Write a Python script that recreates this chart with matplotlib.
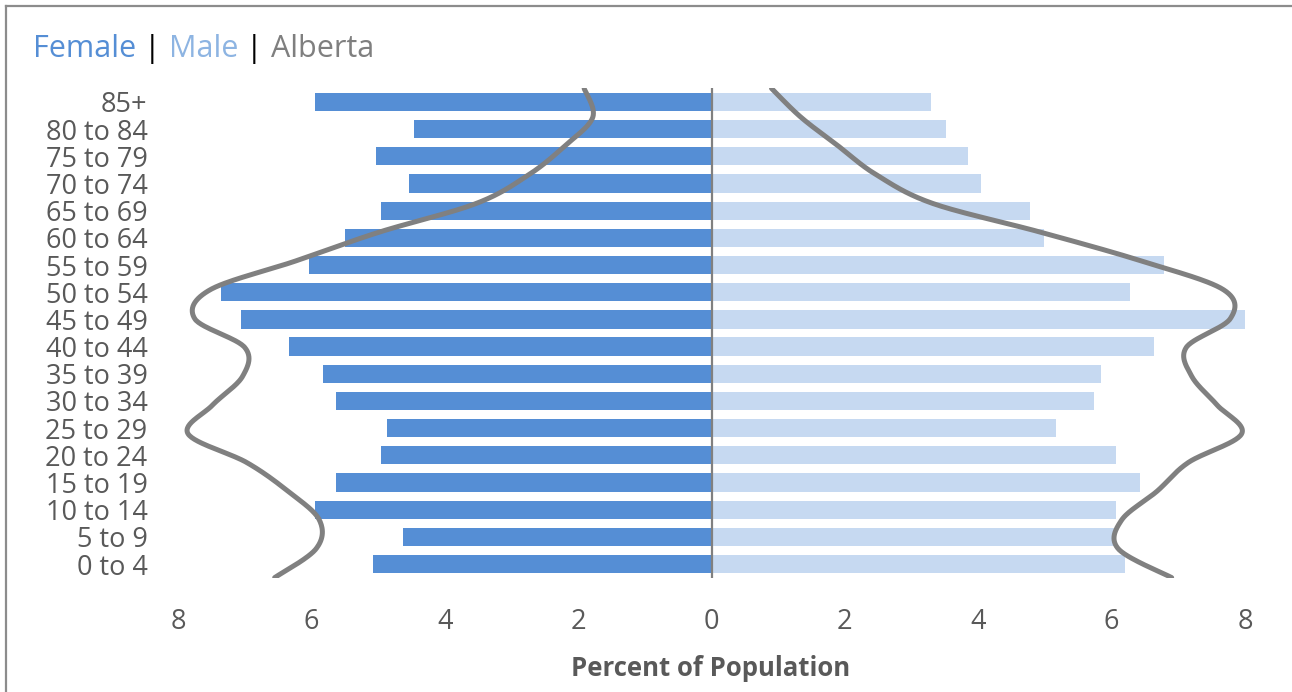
import numpy as np
import matplotlib
matplotlib.use("Agg")
import matplotlib.pyplot as plt
from matplotlib.lines import Line2D

plt.rcParams['font.family'] = ['Open Sans', 'DejaVu Sans']

# ---------------- data (bottom to top) ----------------
age_groups = ["0 to 4", "5 to 9", "10 to 14", "15 to 19", "20 to 24", "25 to 29",
              "30 to 34", "35 to 39", "40 to 44", "45 to 49", "50 to 54", "55 to 59",
              "60 to 64", "65 to 69", "70 to 74", "75 to 79", "80 to 84", "85+"]
female_pct = [5.07, 4.63, 5.95, 5.63, 4.96, 4.87, 5.63, 5.83, 6.33, 7.06,
              7.36, 6.03, 5.50, 4.96, 4.53, 5.03, 4.46, 5.95]
male_pct = [6.20, 6.06, 6.06, 6.42, 6.06, 5.17, 5.73, 5.84, 6.64, 8.02,
            6.28, 6.79, 4.99, 4.77, 4.04, 3.85, 3.52, 3.29]
# Alberta comparison lines (secondary axis, points spread "on tick marks")
alberta_female = [6.55, 5.93, 5.88, 6.35, 6.97, 7.85, 7.48, 7.03, 7.00, 7.75,
                  7.52, 6.24, 4.99, 3.53, 2.74, 2.20, 1.78, 1.91]
alberta_male = [6.90, 6.10, 6.15, 6.68, 7.15, 7.95, 7.58, 7.20, 7.12, 7.78,
                7.68, 6.45, 4.94, 3.32, 2.47, 1.90, 1.34, 0.90]
x_ticks = [-8, -6, -4, -2, 0, 2, 4, 6, 8]
x_tick_labels = ["8", "6", "4", "2", "0", "2", "4", "6", "8"]

FEMALE_C = "#558ED5"
MALE_C = "#C6D9F1"
LINE_C = "#808080"
TEXT_C = "#595959"


def smooth(xs, ys, n=30):
    """Parametric Catmull-Rom (Excel-like smoothed line)."""
    P = np.column_stack([xs, ys]).astype(float)
    P = np.vstack([P[0], P, P[-1]])
    out = []
    for i in range(1, len(P) - 2):
        p0, p1, p2, p3 = P[i - 1], P[i], P[i + 1], P[i + 2]
        t = np.linspace(0, 1, n, endpoint=False)[:, None]
        pt = 0.5 * ((2 * p1) + (-p0 + p2) * t + (2 * p0 - 5 * p1 + 4 * p2 - p3) * t ** 2
                    + (-p0 + 3 * p1 - 3 * p2 + p3) * t ** 3)
        out.append(pt)
    out.append(P[-2][None, :])
    out = np.vstack(out)
    return out[:, 0], out[:, 1]


W, H = 1292, 692
fig = plt.figure(figsize=(W / 100, H / 100), dpi=100)
ax = fig.add_axes([178 / W, 1 - 577.6 / H, (1245 - 178) / W, (577.6 - 88.4) / H])

n = len(age_groups)
ypos = np.arange(n)
ax.barh(ypos, [-v for v in female_pct], height=0.67, color=FEMALE_C, zorder=2)
ax.barh(ypos, male_pct, height=0.67, color=MALE_C, zorder=2)
ax.axvline(0, color=LINE_C, lw=1.6, zorder=3)

line_y = np.linspace(-0.5, n - 0.5, len(alberta_female))
sx, sy = smooth([-v for v in alberta_female], line_y)
ax.plot(sx, sy, color=LINE_C, lw=3.6, solid_capstyle='round', zorder=4)
sx, sy = smooth(alberta_male, line_y)
ax.plot(sx, sy, color=LINE_C, lw=3.6, solid_capstyle='round', zorder=4)

ax.set_xlim(-8, 8)
ax.set_ylim(-0.5, n - 0.5)
ax.set_yticks(ypos)
ax.set_yticklabels(age_groups, fontsize=19.5, color=TEXT_C)
ax.set_xticks(x_ticks)
ax.set_xticklabels(x_tick_labels, fontsize=19.5, color=TEXT_C)
ax.tick_params(axis='y', length=0, pad=22)
ax.tick_params(axis='x', length=0, pad=22)
for s in ax.spines.values():
    s.set_visible(False)

fig.text(711 / W, 1 - 668 / H, "Percent of Population", fontsize=18.5, fontweight='bold',
         color=TEXT_C, ha='center', va='center')

# Title made of coloured pieces
pieces = [("Female", FEMALE_C), (" | ", "#000000"), ("Male", "#8DB4E2"),
          (" | ", "#000000"), ("Alberta", "#7F7F7F")]
renderer = fig.canvas.get_renderer()
x = 33 / W
for txt, col in pieces:
    t = fig.text(x, 1 - 49 / H, txt, fontsize=22, color=col, ha='left', va='center')
    bb = t.get_window_extent(renderer=renderer)
    x = bb.x1 / W

# Frame (left and top visible)
x0 = 5.5 / W
y0 = 1 - 6 / H
fig.add_artist(Line2D([x0, x0], [0, y0], color="#8C8C8C", lw=1.6, transform=fig.transFigure))
fig.add_artist(Line2D([x0, 1], [y0, y0], color="#8C8C8C", lw=1.6, transform=fig.transFigure))

fig.savefig("out.png", dpi=100, facecolor="white")
